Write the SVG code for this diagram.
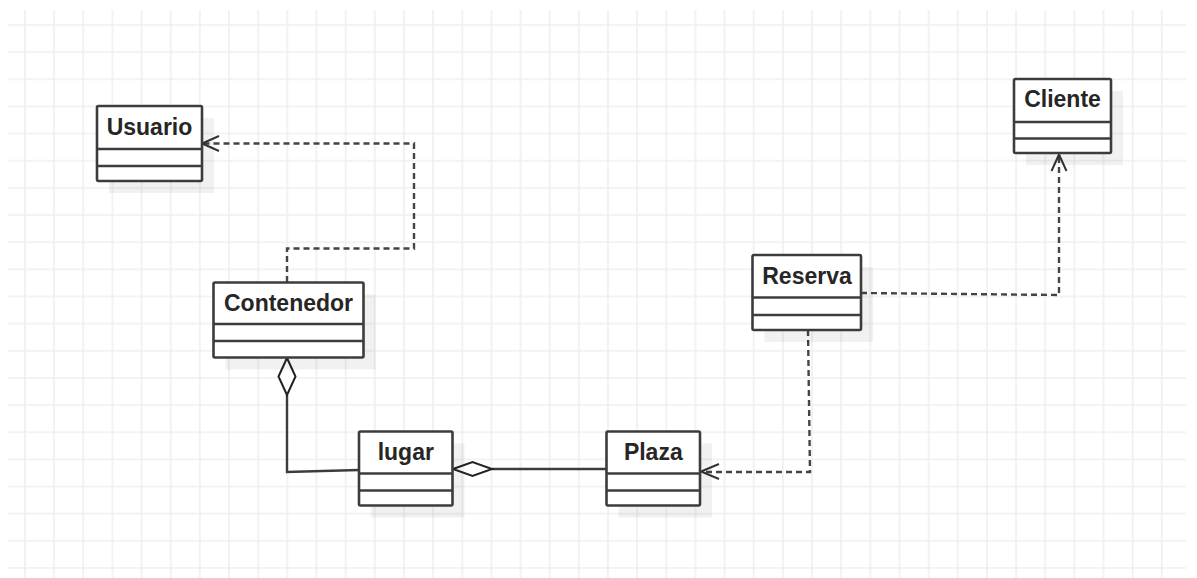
<svg xmlns="http://www.w3.org/2000/svg" width="1197" height="578" viewBox="0 0 1197 578">
<style>
.box { fill:#ffffff; stroke:#3c3c3c; stroke-width:2.6; }
.shadow { fill:#000000; fill-opacity:0.055; }
.div { stroke:#3c3c3c; stroke-width:2.6; }
.title { font-family:"Liberation Sans", Arial, sans-serif; font-weight:bold; font-size:23px; fill:#262626; text-anchor:middle; }
.dep { fill:none; stroke:#444444; stroke-width:2.4; stroke-dasharray:6 4; }
.head { fill:none; stroke:#333333; stroke-width:2; }
.assoc { fill:none; stroke:#3c3c3c; stroke-width:2.4; }
.dia { fill:#ffffff; stroke:#222222; stroke-width:2; }
</style>
<defs>
<pattern id="grid" patternUnits="userSpaceOnUse" x="10.425" y="10.425" width="29.15" height="27.15">
<path d="M14.575 0 V27.15 M0 14.575 H29.15" stroke="#efefef" stroke-width="1.6" fill="none"/>
</pattern>
</defs>
<rect x="0" y="0" width="1197" height="578" fill="#ffffff"/>
<rect x="8" y="10" width="1178" height="568" fill="url(#grid)"/>

<g id="connectors">
<path class="dep" d="M287,282 V248.5 H414 V143.5 H204"/>
<polyline class="head" points="219,136 202,143.5 219,151"/>
<path class="dep" d="M861,293 L1059,295 V156"/>
<polyline class="head" points="1051.5,171 1059,154.5 1066.5,171"/>
<path class="dep" d="M808,330 L810,472 H702"/>
<polyline class="head" points="719,464 701,471.5 719,479"/>
<path class="assoc" d="M287,395 V472 L359,470"/>
<polygon class="dia" points="287,358 295.5,376.5 287,395 278.5,376.5"/>
<path class="assoc" d="M492,469 H606"/>
<polygon class="dia" points="453,469 472.5,462 492,469 472.5,476"/>
</g>

<g id="usuario">
<rect class="shadow" x="109" y="118" width="105" height="75"/>
<rect class="box" x="97" y="106" width="105" height="75" rx="1.5"/>
<line class="div" x1="97" y1="149" x2="202" y2="149"/>
<line class="div" x1="97" y1="166" x2="202" y2="166"/>
<text class="title" x="149.5" y="135">Usuario</text>
</g>

<g id="cliente">
<rect class="shadow" x="1026" y="91" width="97" height="74"/>
<rect class="box" x="1014" y="79" width="97" height="74" rx="1.5"/>
<line class="div" x1="1014" y1="122" x2="1111" y2="122"/>
<line class="div" x1="1014" y1="138.5" x2="1111" y2="138.5"/>
<text class="title" x="1062.5" y="107">Cliente</text>
</g>

<g id="contenedor">
<rect class="shadow" x="225.5" y="294.5" width="150" height="75"/>
<rect class="box" x="213.5" y="282.5" width="150" height="75" rx="1.5"/>
<line class="div" x1="213.5" y1="324" x2="363.5" y2="324"/>
<line class="div" x1="213.5" y1="341" x2="363.5" y2="341"/>
<text class="title" x="288.5" y="311">Contenedor</text>
</g>

<g id="lugar">
<rect class="shadow" x="371" y="443.5" width="93.5" height="74"/>
<rect class="box" x="359" y="431.5" width="93.5" height="74" rx="1.5"/>
<line class="div" x1="359" y1="473.5" x2="452.5" y2="473.5"/>
<line class="div" x1="359" y1="490.5" x2="452.5" y2="490.5"/>
<text class="title" x="405.8" y="460">lugar</text>
</g>

<g id="plaza">
<rect class="shadow" x="618.5" y="443.5" width="93.5" height="74"/>
<rect class="box" x="606.5" y="431.5" width="93.5" height="74" rx="1.5"/>
<line class="div" x1="606.5" y1="473.5" x2="700" y2="473.5"/>
<line class="div" x1="606.5" y1="490.5" x2="700" y2="490.5"/>
<text class="title" x="653.3" y="460">Plaza</text>
</g>

<g id="reserva">
<rect class="shadow" x="764.5" y="267" width="108.5" height="75"/>
<rect class="box" x="752.5" y="255" width="108.5" height="75" rx="1.5"/>
<line class="div" x1="752.5" y1="297.5" x2="861" y2="297.5"/>
<line class="div" x1="752.5" y1="315" x2="861" y2="315"/>
<text class="title" x="807" y="283.5">Reserva</text>
</g>
</svg>
